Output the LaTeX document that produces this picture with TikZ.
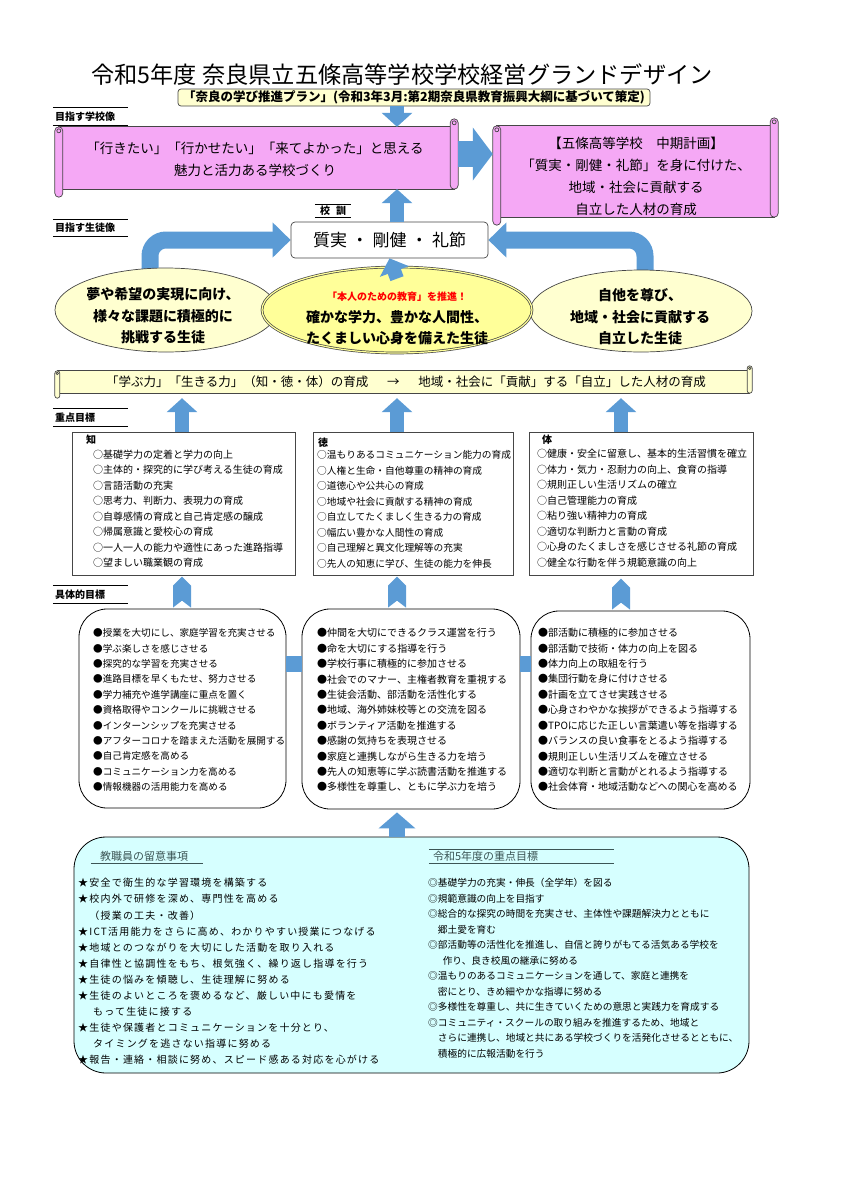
\documentclass[tikz,border=0pt]{standalone}
\usepackage{fontspec}
\setmainfont{Noto Sans CJK JP}
\newfontfamily\spacedfont[LetterSpace=12]{Noto Sans CJK JP}
\usetikzlibrary{positioning,shapes.geometric,arrows.meta,calc,backgrounds}

\definecolor{arrowblue}{RGB}{91,155,213}
\definecolor{scrollpink}{RGB}{245,168,245}
\definecolor{paleyellow}{RGB}{255,255,208}
\definecolor{brightyellow}{RGB}{255,255,153}
\definecolor{palecyan}{RGB}{214,255,255}
\definecolor{linegray}{RGB}{70,70,70}
\definecolor{headteal}{RGB}{60,85,85}

\tikzset{
  seclabel/.style={minimum height=17pt, text width=71pt, inner xsep=2pt, inner ysep=0pt, align=left, font=\fontsize{10}{12}\selectfont\bfseries},
  scrolledge/.style={draw=linegray, line width=0.7pt},
  fatarrow/.style={draw=arrowblue, line width=14pt, -{Triangle[width=30pt,length=14pt]}},
  chevron/.style={fill=arrowblue},
  linkbar/.style={draw=arrowblue, line width=16pt},
  goalbox/.style={draw=linegray, line width=0.7pt, fill=white, inner sep=0pt},
  actionbox/.style={draw=black, line width=0.8pt, fill=white, rounded corners=28pt, inner sep=0pt},
  ovalside/.style={ellipse, draw=linegray, line width=0.7pt, fill=paleyellow, inner sep=0pt},
  ovaltext/.style={align=center, font=\fontsize{14}{21.5}\selectfont\bfseries},
  itemtext/.style={anchor=west, inner sep=0pt},
}

% scroll frame round an empty node: body first, then the two rolls
\newcommand{\drawscroll}[4]{%
  \filldraw[scrolledge, fill=#2] let \p1=(#1.north west), \p2=(#1.south east) in
    (\x1+#4,\y1-#3) rectangle (\x2-#4,\y2+#3);
  \filldraw[scrolledge, fill=#2, rounded corners=#4] let \p1=(#1.north west), \p2=(#1.south east) in
    (\x2-#3,\y1) rectangle (\x2,\y2+#3);
  \filldraw[scrolledge, fill=#2, rounded corners=#4] let \p1=(#1.north west), \p2=(#1.south east) in
    (\x1,\y1-#3) rectangle (\x1+#3,\y2);
  \draw[scrolledge] let \p1=(#1.north west), \p2=(#1.south east) in
    (\x1+#4,\y1-#3-#4) circle[radius=0.5*#4] (\x2-#4,\y1-#4) circle[radius=0.5*#4];
}

\begin{document}
\begin{tikzpicture}[x=1pt, y=-1pt, font=\fontsize{10}{12}\selectfont]
\useasboundingbox (0,0) rectangle (848,1200);

% Title and the plan it follows
\node (title) at (402,75) {\fontsize{23.2}{25}\selectfont 令和5年度 奈良県立五條高等学校学校経営グランドデザイン};
\node[draw=linegray, line width=0.7pt, fill=paleyellow, rounded corners=3pt, minimum width=472pt, minimum height=17pt, inner sep=0pt, font=\fontsize{12.5}{14}\selectfont\bfseries] (plan) at (414,97.5) {「奈良の学び推進プラン」(令和3年3月:第2期奈良県教育振興大綱に基づいて策定)};

% Columns of the up arrows
\coordinate (colK) at (182,0);
\coordinate (colT) at (397,0);
\coordinate (colB) at (621,0);

% Section labels, ruled above and below
\node[seclabel] (labSchool) at (90.5,116.5) {目指す学校像};
\node[seclabel] (labStudent) at (90.5,228) {目指す生徒像};
\node[seclabel] (labFocus) at (90.5,417.5) {重点目標};
\node[seclabel] (labConcrete) at (90.5,594.5) {具体的目標};
\node[inner sep=0pt, minimum width=36pt, minimum height=13pt, font=\fontsize{10}{12}\selectfont\bfseries] (mottoLab) at (333,211) {校\hspace{0.6em}訓};
\foreach \lab in {labSchool, labStudent, labFocus, labConcrete, mottoLab}
  \draw[line width=1pt] (\lab.north west) -- (\lab.north east) (\lab.south west) -- (\lab.south east);

% School vision scrolls
\node[minimum width=403pt, minimum height=78pt, inner sep=0pt] (scrollL) at (256.5,158) {};
\drawscroll{scrollL}{scrollpink}{8pt}{4pt}
\node[align=center, font=\fontsize{13.5}{22}\selectfont] (scrollLtext) at (255,159) {「行きたい」「行かせたい」「来てよかった」と思える\\魅力と活力ある学校づくり};

\node[minimum width=285pt, minimum height=107pt, inner sep=0pt] (scrollR) at (635.5,171.5) {};
\drawscroll{scrollR}{scrollpink}{8pt}{4pt}
\node[align=center, font=\fontsize{13.5}{22}\selectfont] (scrollRtext) at (636,176) {【五條高等学校　中期計画】\\「質実・剛健・礼節」を身に付けた、\\地域・社会に貢献する\\自立した人材の育成};

\draw[fatarrow] (plan.south -| colT) -- ($(scrollL.north -| colT)+(0,8)$);
\draw[fatarrow, line width=26pt, -{Triangle[width=52pt,length=20pt]}] ([yshift=4pt]scrollL.east) -- ([yshift=4pt]scrollL.east -| scrollR.west);

% School motto
\node[draw=linegray, line width=0.7pt, fill=white, rounded corners=4pt, minimum width=197pt, minimum height=36pt, font=\fontsize{17}{20}\selectfont] (motto) at (389.5,240) {質実\hspace{0.25em}・\hspace{0.25em}剛健\hspace{0.25em}・\hspace{0.25em}礼節};
\draw[fatarrow] (motto.north -| colT) -- ($(scrollL.south -| colT)+(0,-8)$);

% Student image ovals
\node[ovalside, minimum width=222pt, minimum height=84pt] (ellL) at (166,310) {};
\node[ovalside, minimum width=222pt, minimum height=82pt] (ellR) at (641,311) {};
\node[ovalside, fill=brightyellow, double=brightyellow, double distance=1.2pt, minimum width=270pt, minimum height=86pt] (ellC) at (397,310) {};
\node[ovaltext] (ellLtext) at (163,316) {夢や希望の実現に向け、\\様々な課題に積極的に\\挑戦する生徒};
\node[ovaltext] (ellRtext) at (640,317) {自他を尊び、\\地域・社会に貢献する\\自立した生徒};
\node[font=\fontsize{10}{12}\selectfont\bfseries, text=red] (ellCnote) at (397,297) {「本人のための教育」を推進！};
\node[ovaltext] (ellCtext) at (397,327.5) {確かな学力、豊かな人間性、\\たくましい心身を備えた生徒};
\draw[fatarrow] ($(ellC.north)+(0,12)$) -- (motto.south);

% Bent arrows from the side ovals, behind them
\begin{scope}[on background layer]
  \draw[fatarrow, line width=17pt, -{Triangle[width=34pt,length=18pt]}, rounded corners=16pt] ($(ellL.north)+(-16,8)$) |- (motto.west);
  \draw[fatarrow, line width=17pt, -{Triangle[width=34pt,length=18pt]}, rounded corners=16pt] ($(ellR.north)+(4,8)$) |- (motto.east);
\end{scope}

% Banner
\node[minimum width=697pt, minimum height=32pt, inner sep=0pt] (banner) at (403.5,382) {};
\drawscroll{banner}{paleyellow}{5pt}{2.5pt}
\node[font=\fontsize{12.5}{14}\selectfont] (bannertext) at (406,382) {「学ぶ力」「生きる力」（知・徳・体）の育成\hspace{1.5em}→\hspace{1.5em}地域・社会に「貢献」する「自立」した人材の育成};

% Focus goals
\node[goalbox, minimum width=223pt, minimum height=143pt] (juK) at (183.5,503.5) {};
\node[goalbox, minimum width=200pt, minimum height=143pt] (juT) at (413,503.5) {};
\node[goalbox, minimum width=224pt, minimum height=143pt] (juB) at (641,503.5) {};
\foreach \b/\c in {juK/colK, juT/colT, juB/colB}
  \draw[fatarrow] (\b.north -| \c) -- (banner.south -| \c);

\node[itemtext, font=\fontsize{10}{12}\selectfont\bfseries] (juKhead) at (86,440) {知};
\foreach \txt [count=\i] in {○基礎学力の定着と学力の向上, ○主体的・探究的に学び考える生徒の育成, ○言語活動の充実, ○思考力、判断力、表現力の育成, ○自尊感情の育成と自己肯定感の醸成, ○帰属意識と愛校心の育成, ○一人一人の能力や適性にあった進路指導, ○望ましい職業観の育成}
  \node[itemtext] (juK-\i) at (93,439+15.5*\i) {\txt};
\node[itemtext, font=\fontsize{10}{12}\selectfont\bfseries] (juThead) at (318,443) {徳};
\foreach \txt [count=\i] in {○温もりあるコミュニケーション能力の育成, ○人権と生命・自他尊重の精神の育成, ○道徳心や公共心の育成, ○地域や社会に貢献する精神の育成, ○自立してたくましく生きる力の育成, ○幅広い豊かな人間性の育成, ○自己理解と異文化理解等の充実, ○先人の知恵に学び、生徒の能力を伸長}
  \node[itemtext, font=\fontsize{9.7}{12}\selectfont] (juT-\i) at (317,439.5+15.5*\i) {\txt};
\node[itemtext, font=\fontsize{10}{12}\selectfont\bfseries] (juBhead) at (542,440) {体};
\foreach \txt [count=\i] in {○健康・安全に留意し、基本的生活習慣を確立, ○体力・気力・忍耐力の向上、食育の指導, ○規則正しい生活リズムの確立, ○自己管理能力の育成, ○粘り強い精神力の育成, ○適切な判断力と言動の育成, ○心身のたくましさを感じさせる礼節の育成, ○健全な行動を伴う規範意識の向上}
  \node[itemtext] (juB-\i) at (537,438.5+15.5*\i) {\txt};

% Concrete goals
\coordinate (linkrow) at (0,663.5);
\node[actionbox, minimum width=207pt, minimum height=199pt] (gutK) at (182.5,708.5) {};
\node[actionbox, minimum width=218pt, minimum height=200pt] (gutT) at (411,709) {};
\node[actionbox, minimum width=219pt, minimum height=198pt] (gutB) at (640.5,710) {};
\draw[linkbar] (gutK.east |- linkrow) -- (gutT.west |- linkrow);
\draw[linkbar] (gutT.east |- linkrow) -- (gutB.west |- linkrow);
% notched arrows up to the focus boxes
\foreach \b/\c in {gutK/colK, gutT/colT, gutB/colB}
  \fill[chevron] (\b.north -| \c) ++(-9,-1) -- ++(0,-22) -- ++(9,-9) -- ++(9,9) -- ++(0,22) -- ++(-9,-7) -- cycle;

\foreach \txt [count=\i] in {●授業を大切にし、家庭学習を充実させる, ●学ぶ楽しさを感じさせる, ●探究的な学習を充実させる, ●進路目標を早くもたせ、努力させる, ●学力補充や進学講座に重点を置く, ●資格取得やコンクールに挑戦させる, ●インターンシップを充実させる, ●アフターコロナを踏まえた活動を展開する, ●自己肯定感を高める, ●コミュニケーション力を高める, ●情報機器の活用能力を高める}
  \node[itemtext, font=\fontsize{9.6}{12}\selectfont] (gutK-\i) at (93,617.6+15.4*\i) {\txt};
\foreach \txt [count=\i] in {●仲間を大切にできるクラス運営を行う, ●命を大切にする指導を行う, ●学校行事に積極的に参加させる, ●社会でのマナー、主権者教育を重視する, ●生徒会活動、部活動を活性化する, ●地域、海外姉妹校等との交流を図る, ●ボランティア活動を推進する, ●感謝の気持ちを表現させる, ●家庭と連携しながら生きる力を培う, ●先人の知恵等に学ぶ読書活動を推進する, ●多様性を尊重し、ともに学ぶ力を培う}
  \node[itemtext] (gutT-\i) at (317,617.6+15.4*\i) {\txt};
\foreach \txt [count=\i] in {●部活動に積極的に参加させる, ●部活動で技術・体力の向上を図る, ●体力向上の取組を行う, ●集団行動を身に付けさせる, ●計画を立てさせ実践させる, ●心身さわやかな挨拶ができるよう指導する, ●TPOに応じた正しい言葉遣い等を指導する, ●バランスの良い食事をとるよう指導する, ●規則正しい生活リズムを確立させる, ●適切な判断と言動がとれるよう指導する, ●社会体育・地域活動などへの関心を高める}
  \node[itemtext] (gutB-\i) at (538,617.6+15.4*\i) {\txt};

% Staff notes and this year's focus
\node[draw=black, line width=0.8pt, fill=palecyan, rounded corners=32pt, minimum width=675pt, minimum height=236pt] (staff) at (411.5,955) {};
\draw[fatarrow, line width=16pt, -{Triangle[width=36pt,length=16pt]}] (staff.north -| colT) -- ($(gutT.south -| colT)+(0,3)$);

\node[text width=94pt, inner xsep=9pt, inner ysep=0pt, minimum height=14pt, align=left, text=headteal, font=\fontsize{11}{13}\selectfont] (staffHead) at (147,856) {教職員の留意事項};
\draw[headteal, line width=1.2pt] (staffHead.south west) -- (staffHead.south east);
\node[text width=177pt, inner xsep=4pt, inner ysep=0pt, minimum height=13pt, align=left, text=headteal, font=\fontsize{11}{13}\selectfont] (focusHead) at (521.5,856.5) {令和5年度の重点目標};
\draw[headteal, line width=1.2pt] (focusHead.north west) -- (focusHead.north east) (focusHead.south west) -- (focusHead.south east);

\foreach \txt [count=\i] in {★安全で衛生的な学習環境を構築する, ★校内外で研修を深め、専門性を高める, 　（授業の工夫・改善）, ★ICT活用能力をさらに高め、わかりやすい授業につなげる, ★地域とのつながりを大切にした活動を取り入れる, ★自律性と協調性をもち、根気強く、繰り返し指導を行う, ★生徒の悩みを傾聴し、生徒理解に努める, ★生徒のよいところを褒めるなど、厳しい中にも愛情を, \hspace*{1.5em}もって生徒に接する, ★生徒や保護者とコミュニケーションを十分とり、, \hspace*{1.5em}タイミングを逃さない指導に努める, ★報告・連絡・相談に努め、スピード感ある対応を心がける}
  \node[itemtext, font=\fontsize{10}{13}\spacedfont] (staff-\i) at (78,866.9+16.1*\i) {\txt};
\foreach \txt [count=\i] in {◎基礎学力の充実・伸長（全学年）を図る, ◎規範意識の向上を目指す, ◎総合的な探究の時間を充実させ、主体性や課題解決力とともに, 　郷土愛を育む, ◎部活動等の活性化を推進し、自信と誇りがもてる活気ある学校を, \hspace*{1.5em}作り、良き校風の継承に努める, ◎温もりのあるコミュニケーションを通して、家庭と連携を, 　密にとり、きめ細やかな指導に努める, ◎多様性を尊重し、共に生きていくための意思と実践力を育成する, ◎コミュニティ・スクールの取り組みを推進するため、地域と, 　さらに連携し、地域と共にある学校づくりを活発化させるとともに、, 　積極的に広報活動を行う}
  \node[itemtext, font=\fontsize{9.7}{12}\selectfont] (focus-\i) at (428,867.5+15.5*\i) {\txt};

\end{tikzpicture}
\end{document}
